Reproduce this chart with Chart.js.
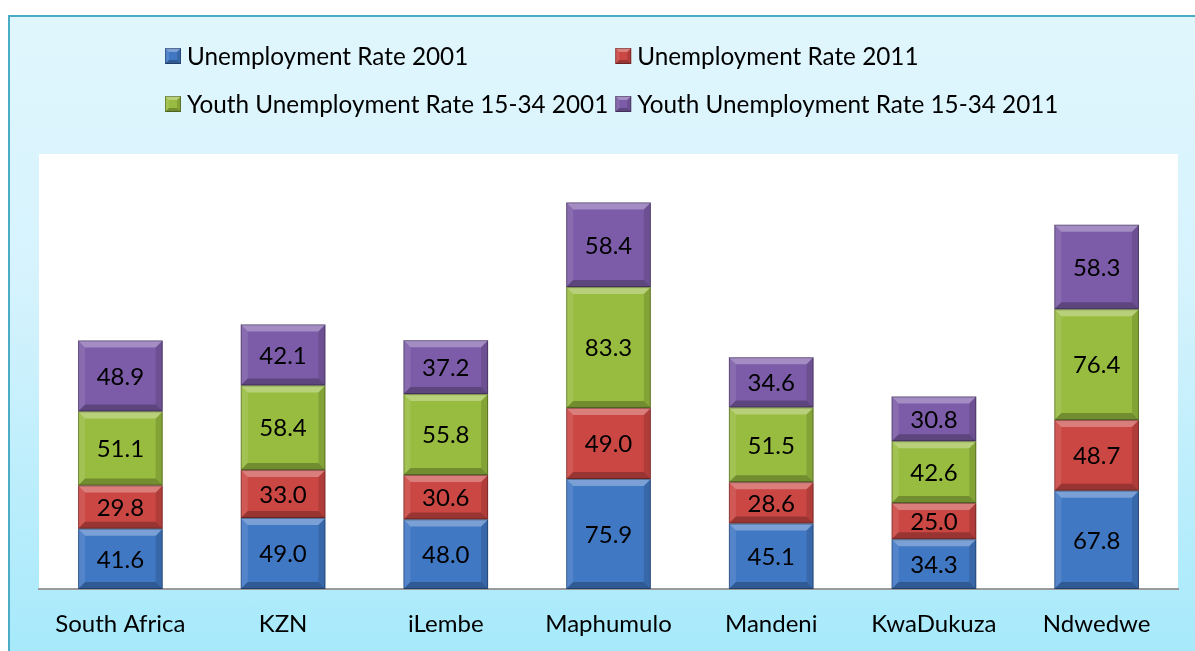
<!DOCTYPE html>
<html>
<head>
<meta charset="utf-8">
<script src="https://cdn.jsdelivr.net/npm/chart.js@4/dist/chart.umd.min.js"></script>
<style>
  html, body { margin: 0; padding: 0; background: #fff; }
  .frame {
    position: absolute; left: 8px; top: 15px; width: 1200px; height: 650px;
    border-top: 2px solid #4bacc6; border-left: 2px solid #4bacc6;
    background: linear-gradient(to bottom, #e0f6fd 0%, #d6f3fd 40%, #a5e9fb 100%);
  }
  .wrap { position: absolute; left: 0; top: 0; width: 1195px; height: 651px; }
</style>
</head>
<body>
<div class="frame"></div>
<div class="wrap"><canvas id="myChart" width="1195" height="651"></canvas></div>
<script>
const categories = ['South Africa', 'KZN', 'iLembe', 'Maphumulo', 'Mandeni', 'KwaDukuza', 'Ndwedwe'];
const unemp2001 = [41.6, 49.0, 48.0, 75.9, 45.1, 34.3, 67.8];
const unemp2011 = [29.8, 33.0, 30.6, 49.0, 28.6, 25.0, 48.7];
const youth2001 = [51.1, 58.4, 55.8, 83.3, 51.5, 42.6, 76.4];
const youth2011 = [48.9, 42.1, 37.2, 58.4, 34.6, 30.8, 58.3];
const seriesNames = [
  'Unemployment Rate 2001',
  'Unemployment Rate 2011',
  'Youth Unemployment Rate 15-34 2001',
  'Youth Unemployment Rate 15-34 2011',
];
const seriesColors = ['#4178c4', '#cb4743', '#98bc40', '#7c5ca8'];

const FONT = 'Lato, "Open Sans", sans-serif';

// white plot area behind the bars
const plotBg = {
  id: 'plotBg',
  beforeDraw(chart) {
    const { ctx, chartArea: a } = chart;
    ctx.save();
    ctx.fillStyle = '#ffffff';
    ctx.fillRect(a.left, a.top, a.right - a.left, a.bottom - a.top);
    ctx.restore();
  },
};

// bevelled edges on each bar segment
function bevel(ctx, x0, y0, x1, y1, b) {
  ctx.save();
  ctx.fillStyle = 'rgba(255,255,255,0.3)';
  ctx.beginPath();
  ctx.moveTo(x0, y0); ctx.lineTo(x1, y0); ctx.lineTo(x1 - b, y0 + b); ctx.lineTo(x0 + b, y0 + b);
  ctx.fill();
  ctx.fillStyle = 'rgba(255,255,255,0.1)';
  ctx.beginPath();
  ctx.moveTo(x0, y0); ctx.lineTo(x0 + b, y0 + b); ctx.lineTo(x0 + b, y1 - b); ctx.lineTo(x0, y1);
  ctx.fill();
  ctx.fillStyle = 'rgba(0,0,0,0.13)';
  ctx.beginPath();
  ctx.moveTo(x1, y0); ctx.lineTo(x1, y1); ctx.lineTo(x1 - b, y1 - b); ctx.lineTo(x1 - b, y0 + b);
  ctx.fill();
  ctx.fillStyle = 'rgba(0,0,0,0.25)';
  ctx.beginPath();
  ctx.moveTo(x0, y1); ctx.lineTo(x1, y1); ctx.lineTo(x1 - b, y1 - b); ctx.lineTo(x0 + b, y1 - b);
  ctx.fill();
  ctx.strokeStyle = 'rgba(0,0,0,0.3)';
  ctx.lineWidth = 1;
  ctx.strokeRect(x0 + 0.5, y0 + 0.5, x1 - x0 - 1, y1 - y0 - 1);
  ctx.restore();
}

const barBevel = {
  id: 'barBevel',
  afterDatasetsDraw(chart) {
    const ctx = chart.ctx;
    chart.data.datasets.forEach((ds, i) => {
      chart.getDatasetMeta(i).data.forEach((bar, j) => {
        const x0 = bar.x - bar.width / 2, x1 = bar.x + bar.width / 2;
        const y0 = Math.min(bar.y, bar.base), y1 = Math.max(bar.y, bar.base);
        bevel(ctx, x0, y0, x1, y1, 7);
        ctx.save();
        ctx.fillStyle = '#000';
        ctx.font = '24px ' + FONT;
        ctx.textAlign = 'center';
        ctx.textBaseline = 'middle';
        ctx.fillText(ds.data[j].toFixed(1), bar.x, (y0 + y1) / 2 + 1);
        ctx.restore();
      });
    });
  },
};

// two-column legend above the plot
const gridLegend = {
  id: 'gridLegend',
  afterDraw(chart) {
    const ctx = chart.ctx;
    const ds = chart.data.datasets;
    ctx.save();
    ctx.font = '24.3px ' + FONT;
    ctx.textBaseline = 'middle';
    const col1 = 165, rowY = [56, 104], box = 16, gap = 6;
    const w1 = Math.max(ctx.measureText(ds[0].label).width, ctx.measureText(ds[2].label).width);
    const col2 = col1 + box + gap + w1 + 7;
    ds.forEach((d, i) => {
      const x = i % 2 === 0 ? col1 : col2;
      const y = rowY[Math.floor(i / 2)];
      ctx.fillStyle = d.backgroundColor;
      ctx.fillRect(x, y - box / 2, box, box);
      bevel(ctx, x, y - box / 2, x + box, y + box / 2, 4);
      ctx.fillStyle = '#000';
      ctx.fillText(d.label, x + box + gap, y + 1);
    });
    ctx.restore();
  },
};

const datasets = [unemp2001, unemp2011, youth2001, youth2011].map((data, i) => ({
  label: seriesNames[i],
  data: data,
  backgroundColor: seriesColors[i],
  borderWidth: 0,
  barPercentage: 0.52,
  categoryPercentage: 1,
}));

const ctx = document.getElementById('myChart').getContext('2d');
const chart = new Chart(ctx, {
  type: 'bar',
  data: { labels: categories, datasets: datasets },
  plugins: [plotBg, barBevel, gridLegend],
  options: {
    responsive: false,
    animation: false,
    layout: { padding: { left: 39, right: 17, top: 154, bottom: 0 } },
    plugins: { legend: { display: false }, tooltip: { enabled: false } },
    scales: {
      x: {
        stacked: true,
        grid: { display: false, drawTicks: false },
        border: { display: true, color: '#9a9a9a', width: 2 },
        ticks: { color: '#000', padding: 21, font: { family: FONT, size: 24 } },
        afterFit(scale) { scale.height = 62; },
      },
      y: {
        stacked: true,
        display: false,
        min: 0,
        max: 300,
      },
    },
  },
});
</script>
</body>
</html>
